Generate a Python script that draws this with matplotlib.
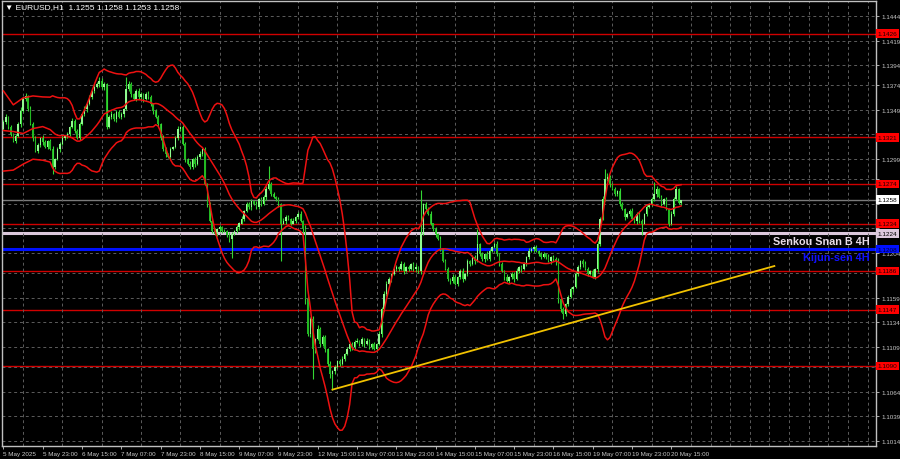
import matplotlib
matplotlib.use("Agg")
import matplotlib.pyplot as plt
import matplotlib.transforms as mtransforms
import numpy as np
import pandas as pd

plt.rcParams['font.family'] = ['DejaVu Sans Condensed', 'Liberation Sans Narrow', 'Liberation Sans', 'DejaVu Sans']
plt.rcParams['font.stretch'] = 'condensed'

# EURUSD H1 closes, 5 May 07:00 -> 20 May 19:00
closes = [
    1.1337, 1.1342, 1.1332, 1.1325, 1.1317, 1.1322, 1.1335, 1.1348, 1.1360, 1.1363,
    1.1350, 1.1335, 1.1320, 1.1307, 1.1313, 1.1320, 1.1316, 1.1311, 1.1317, 1.1309,
    1.1291, 1.1299, 1.1309, 1.1314, 1.1320, 1.1322, 1.1325, 1.1332, 1.1338, 1.1328,
    1.1320, 1.1335, 1.1345, 1.1350, 1.1355, 1.1362, 1.1368, 1.1372, 1.1375, 1.1378,
    1.1372, 1.1375, 1.1332, 1.1342, 1.1345, 1.1340, 1.1347, 1.1342, 1.1345, 1.1350,
    1.1370, 1.1375, 1.1365, 1.1360, 1.1368, 1.1362, 1.1365, 1.1360, 1.1365, 1.1362,
    1.1355, 1.1348, 1.1342, 1.1335, 1.1320, 1.1309, 1.1304, 1.1301, 1.1309, 1.1311,
    1.1320, 1.1330, 1.1332, 1.1314, 1.1299, 1.1294, 1.1291, 1.1299, 1.1294, 1.1301,
    1.1304, 1.1309, 1.1274, 1.1254, 1.1237, 1.1226, 1.1223, 1.1228, 1.1230, 1.1226,
    1.1226, 1.1222, 1.1218, 1.1223, 1.1226, 1.1230, 1.1234, 1.1239, 1.1247, 1.1254,
    1.1251, 1.1257, 1.1254, 1.1251, 1.1259, 1.1254, 1.1261, 1.1269, 1.1274, 1.1264,
    1.1261, 1.1259, 1.1254, 1.1234, 1.1237, 1.1241, 1.1239, 1.1234, 1.1237, 1.1241,
    1.1244, 1.1237, 1.1228, 1.1158, 1.1122, 1.1137, 1.1107, 1.1117, 1.1127, 1.1112,
    1.1119, 1.1107, 1.1092, 1.1082, 1.1085, 1.1089, 1.1095, 1.1092, 1.1097, 1.1102,
    1.1107, 1.1112, 1.1109, 1.1114, 1.1115, 1.1112, 1.1117, 1.1112, 1.1115, 1.1109,
    1.1112, 1.1107, 1.1112, 1.1122, 1.1148, 1.1163, 1.1173, 1.1178, 1.1183, 1.1188,
    1.1190, 1.1188, 1.1193, 1.1186, 1.1190, 1.1188, 1.1193, 1.1188, 1.1190, 1.1186,
    1.1223, 1.1254, 1.1249, 1.1244, 1.1234, 1.1228, 1.1223, 1.1218, 1.1208, 1.1196,
    1.1188, 1.1178, 1.1176, 1.1180, 1.1173, 1.1180, 1.1186, 1.1178, 1.1183, 1.1196,
    1.1193, 1.1200, 1.1196, 1.1213, 1.1203, 1.1198, 1.1203, 1.1198, 1.1206, 1.1210,
    1.1213, 1.1203, 1.1193, 1.1186, 1.1180, 1.1176, 1.1180, 1.1183, 1.1178, 1.1186,
    1.1190, 1.1188, 1.1193, 1.1200, 1.1206, 1.1208, 1.1210, 1.1206, 1.1203, 1.1200,
    1.1203, 1.1200, 1.1196, 1.1200, 1.1198, 1.1196, 1.1158, 1.1148, 1.1142, 1.1153,
    1.1160, 1.1168, 1.1170, 1.1183, 1.1190, 1.1196, 1.1193, 1.1188, 1.1183, 1.1186,
    1.1180, 1.1188, 1.1213, 1.1239, 1.1259, 1.1279, 1.1281, 1.1274, 1.1269, 1.1264,
    1.1267, 1.1254, 1.1249, 1.1241, 1.1244, 1.1247, 1.1239, 1.1237, 1.1244, 1.1237,
    1.1234, 1.1244, 1.1251, 1.1254, 1.1259, 1.1264, 1.1269, 1.1261, 1.1254, 1.1259,
    1.1249, 1.1234, 1.1244, 1.1259, 1.1269, 1.1255, 1.1258,
]
first_open = 1.1330

# wick lengths in pips beyond the body, one digit per bar
wick_up = ("2312132423" "1322213212" "3122312132" "2213221324" "3212312221"
           "4321232123" "2122132121" "2312213122" "3121223121" "2132122312"
           "2213122312" "2121322131" "2314323142" "2213121231" "2122312132"
           "1213233212" "2132121231" "4122312131" "2213212312" "1223121321"
           "2312131223" "1221321212" "2131223121" "2213212321" "2132334212"
           "1321223122" "2131223121" "2132110")
wick_dn = ("1223121312" "2131223121" "4213122312" "1212312213" "2321223123"
           "1231222312" "2312223121" "1221312231" "2213121232" "1232123121"
           "2312221312" "1232131212" "2145232413" "2324131212" "1232122312"
           "2121322131" "2213121232" "3121223121" "1232122312" "2131223121"
           "1221312231" "2312213122" "1213244312" "2131223121" "1232122312"
           "2213121232" "3121223121" "1322112")
spike_highs = {50: 1.1382, 108: 1.1292, 170: 1.1268, 193: 1.1228, 245: 1.1289, 265: 1.1276, 274: 1.1272}
spike_lows = {20: 1.1284, 93: 1.1199, 113: 1.1196, 126: 1.1077, 134: 1.1066, 228: 1.1137, 260: 1.1222}

# Bollinger band values for the first bars (history before the window)
early_bars = [0, 4, 8, 12, 16]
early_upper = [1.1368, 1.1354, 1.1361, 1.1363, 1.1362]
early_mid = [1.1328, 1.1327, 1.1325, 1.1330, 1.1332]
early_lower = [1.1287, 1.1288, 1.1294, 1.1299, 1.1298]

levels = [1.1426, 1.1321, 1.1274, 1.1234, 1.1186, 1.1147, 1.1090]
current_price = 1.1258
senkou_b = 1.1224
kijun = 1.1208
trend_bars = [134, 314]
trend_prices = [1.1066, 1.1191]

price_ticks = [1.1014, 1.1039, 1.1064, 1.1089, 1.1109, 1.1134, 1.1159, 1.1184, 1.1204, 1.1229,
               1.1254, 1.1279, 1.1299, 1.1324, 1.1349, 1.1374, 1.1394, 1.1419, 1.1444]
# scale labels that sit under a price box are hidden in the terminal
hidden_ticks = [1.1089, 1.1184, 1.1229, 1.1254, 1.1279, 1.1324]
time_labels = ["5 May 2025", "5 May 23:00", "6 May 15:00", "7 May 07:00", "7 May 23:00",
               "8 May 15:00", "9 May 07:00", "9 May 23:00", "12 May 15:00", "13 May 07:00",
               "13 May 23:00", "14 May 15:00", "15 May 07:00", "15 May 23:00", "16 May 15:00",
               "19 May 07:00", "19 May 23:00", "20 May 15:00"]

# ---- OHLC
n = len(closes)
bars = np.arange(n)
c = np.array(closes)
o = np.array([first_open] + closes[:-1])
hi = np.maximum(o, c) + np.array([int(d) for d in wick_up]) / 10000
lo = np.minimum(o, c) - np.array([int(d) for d in wick_dn]) / 10000
for k, v in spike_highs.items():
    hi[k] = v
for k, v in spike_lows.items():
    lo[k] = v

s = pd.Series(c)
mid = s.rolling(20).mean()
sd = s.rolling(20).std(ddof=0)
bb_x = early_bars + list(range(19, n))
bb_mid = early_mid + list(mid[19:])
bb_up = early_upper + list((mid + 2 * sd)[19:])
bb_lo = early_lower + list((mid - 2 * sd)[19:])

fig = plt.figure(figsize=(9, 4.6), facecolor='black')
ax = fig.add_axes([2 / 900, 13 / 460, 874 / 900, 445 / 460])
ax.set_facecolor('black')
ax.set_xlim(-0.6, 355.4)
ax.set_ylim(1.1009, 1.1459)

# grid
ax.set_yticks(price_ticks)
ax.set_yticklabels(["" if p in hidden_ticks else f"{p:.4f}" for p in price_ticks])
ax.set_xticks(range(0, 16 * len(time_labels), 16))
ax.set_xticklabels(time_labels, ha='left')
ax.set_xticks(range(0, 356, 8), minor=True)
ax.grid(which='minor', axis='x', color='#5c5c5c', linestyle=(0, (3, 3)), lw=0.7)
ax.grid(which='major', axis='y', color='#5c5c5c', linestyle=(0, (3, 3)), lw=0.7)
ax.yaxis.tick_right()
ax.tick_params(axis='both', which='major', colors='#c8c8c8', labelsize=4.5, length=2.5, width=0.6, pad=1.2)
ax.tick_params(axis='x', which='minor', length=0)
for sp in ax.spines.values():
    sp.set_color('#c0c0c0')
    sp.set_linewidth(1)

# levels
for lv in levels:
    ax.axhline(lv, color='#d00000', lw=1.0, zorder=1)
ax.axhline(current_price, color='#7a7a7a', lw=1.0, zorder=1)
ax.axhline(senkou_b, color='#dcc8dc', lw=2.2, zorder=1)
ax.axhline(kijun, color='#0010ff', lw=2.2, zorder=1)

# candles
up = c >= o
ax.vlines(bars, lo, hi, color='#33d633', lw=0.8, zorder=3)
body_h = np.maximum(np.abs(c - o), 0.00006)
ax.bar(bars, body_h, bottom=np.minimum(o, c), width=0.6,
       color=np.where(up, '#90fa90', '#22b822'), linewidth=0, zorder=4)

# bollinger bands
for line in (bb_up, bb_mid, bb_lo):
    ax.plot(bb_x, line, color='#ee1111', lw=1.1, zorder=5)

# trend line
ax.plot(trend_bars, trend_prices, color='#f2c200', lw=1.3, zorder=6)

# level texts
tr = mtransforms.blended_transform_factory(ax.transAxes, ax.transData)
ax.text(0.993, senkou_b - 0.0008, "Senkou Snan B 4H", transform=tr, ha='right', va='center',
        color='#e8dce8', fontsize=7.8, fontweight='bold', zorder=7)
ax.text(0.993, kijun - 0.0008, "Kijun-sen 4H", transform=tr, ha='right', va='center',
        color='#1010ff', fontsize=7.8, fontweight='bold', zorder=7)

# price boxes on the right scale
def price_box(p, face, txt):
    ax.text(1.002, p, f"{p:.4f}", transform=tr, ha='left', va='center', fontsize=4.6,
            color=txt, clip_on=False, zorder=8,
            bbox=dict(facecolor=face, edgecolor='none', pad=1.3))

for lv in levels:
    price_box(lv, '#ff0000', '#200000')
price_box(current_price, '#ffffff', '#000000')
price_box(senkou_b, '#dcc8dc', '#000000')
price_box(kijun, '#0010ff', '#000030')

fig.text(5 / 900, 1 - 8 / 460, "\u25bc EURUSD,H1  1.1255 1.1258 1.1253 1.1258",
         color='white', fontsize=6, va='center', ha='left')

fig.savefig('out.png', dpi=100, facecolor='black')
